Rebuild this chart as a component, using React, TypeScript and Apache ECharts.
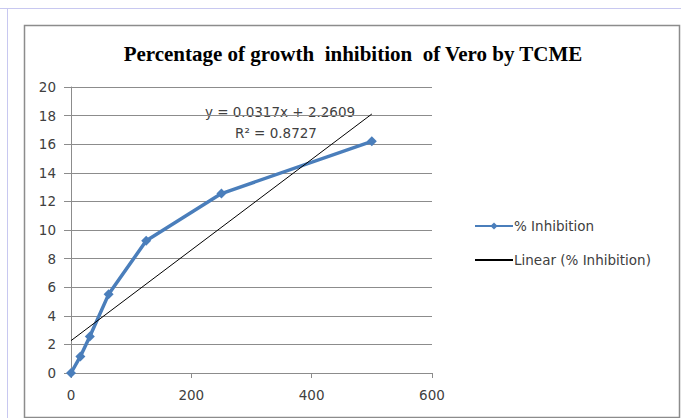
import React, { useEffect, useRef } from "react";
import * as echarts from "echarts";

const concentrations = [0, 15.6, 31.25, 62.5, 125, 250, 500];
const inhibition = [0, 1.16, 2.55, 5.5, 9.25, 12.55, 16.2];
const trendSlope = 0.0317;
const trendIntercept = 2.2609;
const trendRange = [0, 500];
const xTicks = { min: 0, max: 600, interval: 200 };
const yTicks = { min: 0, max: 20, interval: 2 };
const titleText = "Percentage of growth  inhibition  of Vero by TCME";
const equationText = "y = 0.0317x + 2.2609";
const r2Text = "R\u00B2 = 0.8727";
const seriesNames = ["% Inhibition", "Linear (% Inhibition)"];

export default function App() {
  const ref = useRef<HTMLDivElement>(null);
  useEffect(() => {
    if (!ref.current) return;
    const chart = echarts.init(ref.current, null, { renderer: "svg" });
    const trendData = trendRange.map((x) => [x, trendSlope * x + trendIntercept]);
    const gridColor = "#8c8c8c";
    const labelColor = "#404040";
    const font = "DejaVu Sans";
    const fs = 13.5;
    chart.setOption({
      animation: false,
      backgroundColor: "#ffffff",
      title: {
        text: titleText,
        left: 348,
        textAlign: "center",
        top: 38,
        textStyle: {
          fontFamily: "Liberation Serif",
          fontWeight: "bold",
          fontSize: 21,
          color: "#000000",
        },
      },
      grid: { left: 71, right: 249, top: 87, bottom: 45 },
      xAxis: {
        type: "value",
        min: xTicks.min,
        max: xTicks.max,
        interval: xTicks.interval,
        axisLine: { show: true, lineStyle: { color: gridColor, width: 1 } },
        axisTick: { show: true, length: 5, lineStyle: { color: gridColor } },
        splitLine: { show: false },
        axisLabel: { color: labelColor, fontFamily: font, fontSize: fs, margin: 15 },
      },
      yAxis: {
        type: "value",
        min: yTicks.min,
        max: yTicks.max,
        interval: yTicks.interval,
        axisLine: { show: true, lineStyle: { color: gridColor, width: 1 } },
        axisTick: { show: true, length: 7, lineStyle: { color: gridColor } },
        splitLine: { show: true, lineStyle: { color: gridColor, width: 1 } },
        axisLabel: { color: labelColor, fontFamily: font, fontSize: fs, margin: 15 },
      },
      legend: {
        orient: "vertical",
        left: 474,
        top: 219,
        padding: 0,
        itemWidth: 38,
        itemHeight: 9,
        itemGap: 20,
        textStyle: { color: labelColor, fontFamily: font, fontSize: fs, padding: [0, 0, 0, -4] },
        data: [
          { name: seriesNames[0] },
          { name: seriesNames[1], itemStyle: { opacity: 0 } },
        ],
      },
      series: [
        {
          name: seriesNames[0],
          type: "line",
          data: concentrations.map((x, i) => [x, inhibition[i]]),
          symbol: "diamond",
          symbolSize: 10,
          lineStyle: { color: "#4a7ebb", width: 3.5 },
          itemStyle: { color: "#4a7ebb" },
          z: 3,
        },
        {
          name: seriesNames[1],
          type: "line",
          data: trendData,
          symbol: "none",
          lineStyle: { color: "#000000", width: 1 },
          itemStyle: { color: "#000000" },
          z: 4,
        },
      ],
      graphic: [
        { type: "line", shape: { x1: 0, y1: 8.5, x2: 681, y2: 8.5 }, style: { stroke: "#c8c8f0", lineWidth: 1 } },
        { type: "line", shape: { x1: 7.5, y1: 8, x2: 7.5, y2: 418 }, style: { stroke: "#c8c8f0", lineWidth: 1 } },
        { type: "rect", shape: { x: 24.5, y: 25.5, width: 655, height: 392 }, style: { fill: "none", stroke: "#8c8c8c", lineWidth: 1.5 } },
        {
          type: "text",
          x: 280,
          y: 112,
          style: { text: equationText, fontFamily: font, fontSize: fs, fill: labelColor, textAlign: "center", textVerticalAlign: "middle" },
        },
        {
          type: "text",
          x: 276,
          y: 133,
          style: { text: r2Text, fontFamily: font, fontSize: fs, fill: labelColor, textAlign: "center", textVerticalAlign: "middle" },
        },
      ],
    });
    return () => chart.dispose();
  }, []);
  return (
    <div
      ref={ref}
      style={{ position: "fixed", left: 0, top: 0, width: 681, height: 418 }}
    />
  );
}
